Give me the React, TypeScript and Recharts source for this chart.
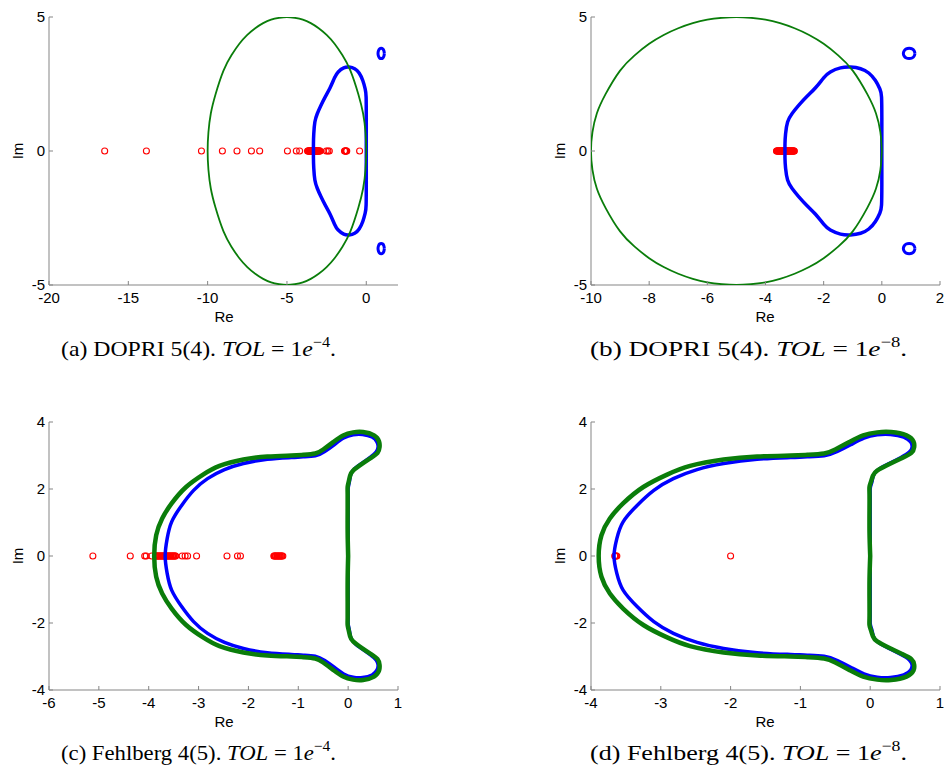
import { Scatter, ScatterChart, XAxis, YAxis } from "recharts";

// ---- stability boundaries (upper half, [re, im]); regions are symmetric about the real axis
const dopriUpper: [number, number][] = [
    [0, 0], [0, 0.6], [0, 1.26], [-0.01, 2.01], [-0.07, 2.32], [-0.22, 2.63], [-0.45, 2.91],
    [-0.73, 3.07], [-1.08, 3.13], [-1.42, 3.1], [-1.77, 2.95], [-2.0, 2.73], [-2.28, 2.36],
    [-2.57, 2.04], [-2.86, 1.7], [-3.09, 1.39], [-3.24, 1.08], [-3.31, 0.64], [-3.33, 0.27], [-3.33, 0],
];

const dopriIsland: [number, number][] = [
    [1.14, 3.64], [1.11, 3.74], [1.04, 3.81], [0.94, 3.83], [0.84, 3.81], [0.77, 3.74], [0.74, 3.64],
    [0.77, 3.54], [0.84, 3.47], [0.94, 3.45], [1.04, 3.47], [1.11, 3.54], [1.14, 3.64],
];

const eulerCircleUpper: [number, number][] = [
    [0, 0], [-0.05, 0.7], [-0.2, 1.4], [-0.5, 2.12], [-1.0, 3.0], [-1.5, 3.57], [-2.0, 4.0],
    [-2.5, 4.33], [-3.0, 4.58], [-3.5, 4.77], [-4.0, 4.9], [-4.5, 4.97], [-5.0, 5.0], [-5.5, 4.97],
    [-6.0, 4.9], [-6.5, 4.77], [-7.0, 4.58], [-7.5, 4.33], [-8.0, 4.0], [-8.5, 3.57], [-9.0, 3.0],
    [-9.5, 2.12], [-9.8, 1.4], [-9.95, 0.7], [-10.0, 0],
];

const fehlbergBlueUpper: [number, number][] = [
    [0, 0], [0, 0.7], [0, 1.4], [0, 1.8], [0, 2.0], [0.01, 2.11], [0.03, 2.26], [0.06, 2.46],
    [0.15, 2.63], [0.27, 2.76], [0.44, 2.94], [0.56, 3.1], [0.6, 3.25], [0.58, 3.4], [0.48, 3.55],
    [0.29, 3.63], [0.1, 3.62], [-0.09, 3.52], [-0.28, 3.32], [-0.47, 3.12], [-0.66, 2.99],
    [-0.9, 2.96], [-1.14, 2.94], [-1.62, 2.89], [-2.1, 2.76], [-2.48, 2.58], [-2.82, 2.31],
    [-3.1, 1.96], [-3.34, 1.51], [-3.54, 1.02], [-3.63, 0.52], [-3.67, 0],
];

const fehlbergGreenUpper: [number, number][] = [
    [0, 0], [-0.01, 0.7], [-0.01, 1.4], [-0.01, 1.85], [-0.01, 2.06], [0.01, 2.21], [0.04, 2.4],
    [0.1, 2.55], [0.27, 2.74], [0.45, 2.92], [0.59, 3.08], [0.63, 3.25], [0.62, 3.42], [0.52, 3.6],
    [0.3, 3.7], [0.1, 3.69], [-0.1, 3.6], [-0.3, 3.4], [-0.5, 3.18], [-0.66, 3.06], [-0.9, 3.02],
    [-1.14, 3.0], [-1.62, 2.97], [-2.1, 2.88], [-2.58, 2.69], [-2.91, 2.43], [-3.25, 2.06],
    [-3.54, 1.57], [-3.73, 1.12], [-3.85, 0.62], [-3.89, 0],
];

// ---- eigenvalues (all real)
const eigDopriTol4 = [
    -16.49, -13.86, -10.39, -9.07, -8.15, -7.24, -6.72, -4.97, -4.41, -4.2, -3.7, -3.67, -3.65,
    -3.62, -3.6, -3.57, -3.55, -3.52, -3.5, -3.47, -3.45, -3.42, -3.4, -3.38, -3.35, -3.33, -3.31,
    -3.28, -3.26, -3.23, -3.21, -3.18, -3.16, -3.13, -3.11, -3.08, -3.06, -3.03, -3.0, -2.97, -2.94,
    -2.91, -2.52, -2.42, -2.33, -1.37, -1.34, -1.31, -1.29, -1.26, -1.23, -0.42,
];
const eigDopriTol8 = [
    -3.62, -3.61, -3.59, -3.58, -3.56, -3.55, -3.53, -3.52, -3.5, -3.49, -3.47, -3.46, -3.44, -3.43,
    -3.41, -3.4, -3.38, -3.37, -3.35, -3.34, -3.32, -3.31, -3.29, -3.28, -3.26, -3.25, -3.23, -3.22,
    -3.2, -3.19, -3.17, -3.16, -3.14, -3.13, -3.11, -3.1, -3.08, -3.07, -3.05, -3.04, -3.02, -3.01,
];
const eigFehlbergTol4 = [
    -5.12, -4.37, -4.08, -4.05, -3.94, -3.86, -3.85, -3.83, -3.82, -3.8, -3.79, -3.77, -3.76, -3.74,
    -3.73, -3.71, -3.7, -3.68, -3.67, -3.65, -3.64, -3.62, -3.61, -3.59, -3.58, -3.56, -3.55, -3.53,
    -3.52, -3.5, -3.49, -3.47, -3.46, -3.33, -3.27, -3.22, -3.04, -2.43, -2.22, -2.16, -1.49, -1.48,
    -1.46, -1.45, -1.43, -1.42, -1.4, -1.39, -1.37, -1.36, -1.34, -1.33, -1.31,
];
const eigFehlbergTol8 = [-3.66, -3.65, -3.64, -3.63, -2.0];

// ---- axes
const xTicksA = [-20, -15, -10, -5, 0];
const xTicksB = [-10, -8, -6, -4, -2, 0, 2];
const xTicksC = [-6, -5, -4, -3, -2, -1, 0, 1];
const xTicksD = [-4, -3, -2, -1, 0, 1];
const yTicksTop = [-5, 0, 5];
const yTicksBottom = [-4, -2, 0, 2, 4];

const BLUE = "#0000ff";
const GREEN = "#0a7d0a";
const RED = "#ff0000";
const AXIS = "#858585";
const SANS = "'Liberation Sans', Arial, Helvetica, sans-serif";
const SERIF = "'Liberation Serif', 'Times New Roman', Times, serif";

const PLOT_W = 349;
const PLOT_H = 268;
const Y_AXIS_W = 40;
const X_AXIS_H = 30;
const PAD_T = 10;
const PAD_R = 10;

type Pt = { re: number; im: number };

const toPts = (arr: [number, number][]): Pt[] => arr.map(([re, im]) => ({ re, im }));
// upper half + its mirror image traversed backwards -> closed loop
const closeLoop = (upper: [number, number][]): Pt[] =>
    toPts([...upper, ...upper.slice(0, -1).reverse().map(([re, im]) => [re, -im] as [number, number])]);
const mirror = (arr: [number, number][]): Pt[] => arr.map(([re, im]) => ({ re, im: -im }));

const dopriRegion = closeLoop(dopriUpper);
const islandTop = toPts(dopriIsland);
const islandBottom = mirror(dopriIsland);
const eulerCircle = closeLoop(eulerCircleUpper);
const fehlbergBlue = closeLoop(fehlbergBlueUpper);
const fehlbergGreen = closeLoop(fehlbergGreenUpper);

interface Curve {
    data: Pt[];
    color: string;
    width: number;
}

const XTick = (props: any) => {
    const { x, y, payload } = props;
    return (
        <g>
            <line x1={x} x2={x} y1={y} y2={y - 4} stroke={AXIS} />
            <text x={x} y={y + 18} textAnchor="middle" fontFamily={SANS} fontSize={15} fill="#000">
                {payload.value}
            </text>
        </g>
    );
};

const YTick = (props: any) => {
    const { x, y, payload } = props;
    return (
        <g>
            <line x1={x} x2={x + 4} y1={y} y2={y} stroke={AXIS} />
            <text x={x - 4} y={y + 5} textAnchor="end" fontFamily={SANS} fontSize={15} fill="#000">
                {payload.value}
            </text>
        </g>
    );
};

const RedRing = (props: any) => (
    <circle cx={props.cx} cy={props.cy} r={3} fill="none" stroke={RED} strokeWidth={1.1} />
);

const NoMarker = () => <g />;

interface PanelProps {
    left: number;
    top: number;
    xDomain: [number, number];
    xTicks: number[];
    yDomain: [number, number];
    yTicks: number[];
    eig: number[];
    curves: Curve[];
}

function Panel({ left, top, xDomain, xTicks, yDomain, yTicks, eig, curves }: PanelProps) {
    return (
        <div style={{ position: "absolute", left: left - Y_AXIS_W, top: top - PAD_T }}>
            <ScatterChart
                width={Y_AXIS_W + PLOT_W + PAD_R}
                height={PAD_T + PLOT_H + X_AXIS_H}
                margin={{ top: PAD_T, right: PAD_R, bottom: 0, left: 0 }}
            >
                <XAxis
                    type="number" dataKey="re" domain={xDomain} ticks={xTicks} interval={0}
                    height={X_AXIS_H} tickSize={0} tickMargin={0} tickLine={false}
                    axisLine={{ stroke: AXIS }} tick={XTick} allowDataOverflow
                />
                <YAxis
                    type="number" dataKey="im" domain={yDomain} ticks={yTicks} interval={0}
                    width={Y_AXIS_W} tickSize={0} tickMargin={0} tickLine={false}
                    axisLine={{ stroke: AXIS }} tick={YTick} allowDataOverflow
                />
                <Scatter data={eig.map((re) => ({ re, im: 0 }))} shape={RedRing} isAnimationActive={false} />
                {curves.map((c, i) => (
                    <Scatter
                        key={i}
                        data={c.data}
                        fill={c.color}
                        line={{ stroke: c.color, strokeWidth: c.width, strokeLinejoin: "round" }}
                        lineJointType="natural"
                        shape={NoMarker}
                        isAnimationActive={false}
                    />
                ))}
            </ScatterChart>
        </div>
    );
}

function Caption({ x, y, width, tag, method, exp }: { x: number; y: number; width: number; tag: string; method: string; exp: string }) {
    return (
        <text x={x} y={y} textLength={width} lengthAdjust="spacingAndGlyphs" fontFamily={SERIF} fontSize={22} fill="#000">
            {`(${tag}) ${method}. `}
            <tspan fontStyle="italic">TOL</tspan>
            {" = 1"}
            <tspan fontStyle="italic">e</tspan>
            <tspan dy={-9} fontSize={15}>{`\u2212${exp}`}</tspan>
            <tspan dy={9}>.</tspan>
        </text>
    );
}

const dopriCurves: Curve[] = [
    { data: dopriRegion, color: BLUE, width: 3.5 },
    { data: islandTop, color: BLUE, width: 3 },
    { data: islandBottom, color: BLUE, width: 3 },
    { data: eulerCircle, color: GREEN, width: 1.8 },
];

const fehlbergCurves: Curve[] = [
    { data: fehlbergBlue, color: BLUE, width: 3.5 },
    { data: fehlbergGreen, color: GREEN, width: 4.5 },
];

export default function App() {
    return (
        <div style={{ position: "absolute", left: 0, top: 0, width: 946, height: 774, background: "#fff" }}>
            <Panel left={49} top={17} xDomain={[-20, 2]} xTicks={xTicksA} yDomain={[-5, 5]} yTicks={yTicksTop} eig={eigDopriTol4} curves={dopriCurves} />
            <Panel left={591} top={17} xDomain={[-10, 2]} xTicks={xTicksB} yDomain={[-5, 5]} yTicks={yTicksTop} eig={eigDopriTol8} curves={dopriCurves} />
            <Panel left={49} top={422} xDomain={[-6, 1]} xTicks={xTicksC} yDomain={[-4, 4]} yTicks={yTicksBottom} eig={eigFehlbergTol4} curves={fehlbergCurves} />
            <Panel left={591} top={422} xDomain={[-4, 1]} xTicks={xTicksD} yDomain={[-4, 4]} yTicks={yTicksBottom} eig={eigFehlbergTol8} curves={fehlbergCurves} />

            <svg width={946} height={774} style={{ position: "absolute", left: 0, top: 0, pointerEvents: "none" }}>
                <g fontFamily={SANS} fontSize={15} fill="#000">
                    <text x={224} y={322} textAnchor="middle">Re</text>
                    <text x={765} y={322} textAnchor="middle">Re</text>
                    <text x={224} y={727} textAnchor="middle">Re</text>
                    <text x={765} y={727} textAnchor="middle">Re</text>
                    <text transform="translate(23 151) rotate(-90)" textAnchor="middle">Im</text>
                    <text transform="translate(565 151) rotate(-90)" textAnchor="middle">Im</text>
                    <text transform="translate(23 556) rotate(-90)" textAnchor="middle">Im</text>
                    <text transform="translate(565 556) rotate(-90)" textAnchor="middle">Im</text>
                </g>
                <Caption x={61} y={356} width={275} tag="a" method="DOPRI 5(4)" exp="4" />
                <Caption x={590} y={356} width={317} tag="b" method="DOPRI 5(4)" exp="8" />
                <Caption x={61} y={760} width={275} tag="c" method="Fehlberg 4(5)" exp="4" />
                <Caption x={590} y={760} width={317} tag="d" method="Fehlberg 4(5)" exp="8" />
            </svg>
        </div>
    );
}
